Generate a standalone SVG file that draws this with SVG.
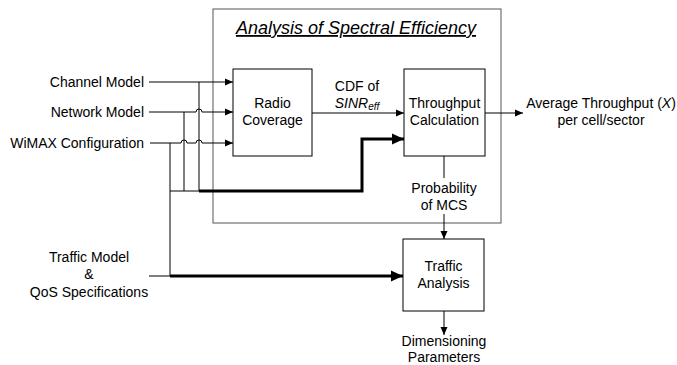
<svg xmlns="http://www.w3.org/2000/svg" width="677" height="365" viewBox="0 0 677 365">
<defs>
<style>
text{font-family:"Liberation Sans",Arial,sans-serif;font-size:14px;fill:#000}
.c{text-anchor:middle}
.r{text-anchor:end}
.box{fill:#fff;stroke:#000;stroke-width:1}
.ln{fill:none;stroke:#000;stroke-width:1}
.thk{fill:none;stroke:#000;stroke-width:3}
</style>
<marker id="a" markerWidth="8" markerHeight="8" refX="8" refY="4" orient="auto" markerUnits="userSpaceOnUse"><path d="M0,0.5 L8,4 L0,7.5 Z" fill="#000"/></marker>
<marker id="b" markerWidth="12" markerHeight="12" refX="12" refY="6" orient="auto" markerUnits="userSpaceOnUse"><path d="M0,0.5 L12,6 L0,11.5 Z" fill="#000"/></marker>
</defs>
<g id="outer">
<rect x="213" y="9" width="288" height="214" fill="none" stroke="#555" stroke-width="1"/>
<text x="356" y="34" class="c" style="font-size:18px;font-style:italic;text-decoration:underline">Analysis of Spectral Efficiency</text>
</g>
<g id="connectors">
<path class="ln" d="M149,82 H233" marker-end="url(#a)"/>
<path class="ln" d="M149,112 H196 a3,3 0 0 1 6,0 H233" marker-end="url(#a)"/>
<path class="ln" d="M150,143 H181 a3,3 0 0 1 6,0 H196 a3,3 0 0 1 6,0 H233" marker-end="url(#a)"/>
<path class="ln" d="M199,82 V191"/>
<path class="ln" d="M184,112 V191"/>
<path class="ln" d="M170,143 V276"/>
<path class="ln" d="M170,191 H199"/>
<path class="thk" d="M199,191 H362 V139 H404" marker-end="url(#b)"/>
<path class="ln" d="M149,276 H170"/>
<path class="thk" d="M170,276 H403" marker-end="url(#b)"/>
<path class="ln" d="M312,113 H404" marker-end="url(#a)"/>
<path class="ln" d="M485,113 H523" marker-end="url(#a)"/>
<path class="ln" d="M444,156 V178"/>
<path class="ln" d="M444,214 V239" marker-end="url(#a)"/>
<path class="ln" d="M444,311 V335" marker-end="url(#a)"/>
</g>
<g id="inputs">
<text x="144" y="87" class="r">Channel Model</text>
<text x="144" y="117" class="r">Network Model</text>
<text x="144" y="148" class="r">WiMAX Configuration</text>
</g>
<g id="traffic-model">
<text x="89" y="262" class="c">Traffic Model</text>
<text x="89" y="279" class="c">&amp;</text>
<text x="89" y="297" class="c">QoS Specifications</text>
</g>
<g id="radio">
<rect class="box" x="233" y="69" width="79" height="87"/>
<text x="272.5" y="108" class="c">Radio</text>
<text x="272.5" y="125" class="c">Coverage</text>
</g>
<g id="cdf">
<text x="357" y="91" class="c">CDF of</text>
<text x="357" y="108" class="c" style="font-style:italic">SINR<tspan style="font-size:10px" dy="2">eff</tspan></text>
</g>
<g id="throughput">
<rect class="box" x="404" y="69" width="81" height="87"/>
<text x="444.5" y="108" class="c">Throughput</text>
<text x="444.5" y="125" class="c">Calculation</text>
</g>
<g id="probability">
<text x="444" y="193" class="c">Probability</text>
<text x="444" y="210" class="c">of MCS</text>
</g>
<g id="traffic">
<rect class="box" x="403" y="239" width="81" height="72"/>
<text x="443.5" y="271" class="c">Traffic</text>
<text x="443.5" y="288" class="c">Analysis</text>
</g>
<g id="dimensioning">
<text x="444" y="346" class="c">Dimensioning</text>
<text x="444" y="362" class="c">Parameters</text>
</g>
<g id="output">
<text x="601" y="108" class="c">Average Throughput (<tspan style="font-style:italic">X</tspan>)</text>
<text x="601" y="125" class="c">per cell/sector</text>
</g>
</svg>
